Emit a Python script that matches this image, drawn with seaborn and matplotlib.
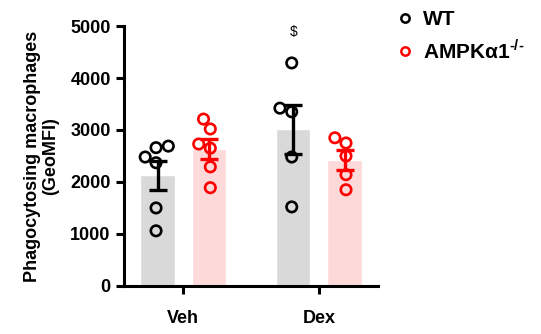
import matplotlib
matplotlib.use("Agg")
import matplotlib.pyplot as plt
from matplotlib.lines import Line2D
import seaborn as sns
import numpy as np
import pandas as pd

treatments = ["Veh", "Dex"]
genotypes = ["WT", "AMPKα1$^{\\text{-/-}}$"]

wt_veh = [2690, 2660, 2480, 2370, 1500, 1060]
ko_veh = [3210, 3020, 2730, 2650, 2290, 1890]
wt_dex = [4290, 3420, 3350, 2480, 1520]
ko_dex = [2850, 2750, 2500, 2140, 1850]

bar_colors = ["#d9d9d9", "#fdd9d9"]
point_colors = ["black", "#ff0000"]

rows = []
for trt, geno, vals in [("Veh", genotypes[0], wt_veh), ("Veh", genotypes[1], ko_veh),
                        ("Dex", genotypes[0], wt_dex), ("Dex", genotypes[1], ko_dex)]:
    for v in vals:
        rows.append({"treatment": trt, "genotype": geno, "value": v})
df = pd.DataFrame(rows)

sns.set_style("ticks")
plt.rcParams["font.family"] = ["Liberation Sans", "DejaVu Sans"]
plt.rcParams["font.weight"] = "bold"
plt.rcParams["text.color"] = "black"
plt.rcParams["axes.labelcolor"] = "black"
plt.rcParams["xtick.color"] = "black"
plt.rcParams["ytick.color"] = "black"
plt.rcParams["axes.edgecolor"] = "black"
plt.rcParams["mathtext.fontset"] = "custom"
plt.rcParams["mathtext.rm"] = "Liberation Sans:bold"
plt.rcParams["mathtext.bf"] = "Liberation Sans:bold"

fig = plt.figure(figsize=(5.41, 3.34), dpi=100)
ax = fig.add_axes([0.229, 0.144, 0.47, 0.778])

sns.barplot(data=df, x="treatment", y="value", hue="genotype", order=treatments,
            hue_order=genotypes, palette=bar_colors, width=0.756, gap=0.333,
            errorbar=None, legend=False, ax=ax, saturation=1)

sns.swarmplot(data=df, x="treatment", y="value", hue="genotype", order=treatments,
              hue_order=genotypes, palette=point_colors, dodge=True, size=8.5,
              legend=False, ax=ax)

ax.set_xlim(-0.437, 1.437)
ax.set_ylim(0, 5000)

# swarm positions are computed at draw time: lay them out, freeze them,
# then restyle as open circles
fig.canvas.draw()
for coll in ax.collections:
    if "draw" in coll.__dict__:
        del coll.draw
    fc = coll.get_facecolors()
    coll.set_edgecolors(fc)
    coll.set_facecolors("none")
    coll.set_linewidth(1.9)
    coll.set_sizes([7.5 ** 2])

# mean +/- SEM error bars, coloured per genotype
stats = df.groupby(["treatment", "genotype"])["value"].agg(["mean", "sem"])
patches = sorted(ax.patches, key=lambda p: p.get_x())
keys = [(t, g) for t in treatments for g in genotypes]
for p, (t, g) in zip(patches, keys):
    xc = p.get_x() + p.get_width() / 2
    col = point_colors[genotypes.index(g)]
    ax.errorbar(xc, stats.loc[(t, g), "mean"], yerr=stats.loc[(t, g), "sem"],
                color=col, capsize=6.5, capthick=2.4, elinewidth=2.4, zorder=5)

# significance mark over WT Dex
wt_dex_patch = patches[2]
ax.text(wt_dex_patch.get_x() + wt_dex_patch.get_width() / 2, 4880, r"\$",
        ha="center", va="center", fontsize=10, fontweight="normal")

ax.set_yticks([0, 1000, 2000, 3000, 4000, 5000])
ax.set_xlabel("")
ax.set_ylabel("Phagocytosing macrophages\n(GeoMFI)", fontsize=13, fontweight="bold",
              labelpad=8, linespacing=1.1)
ax.tick_params(axis="both", width=2.2, length=6, labelsize=13)
ax.tick_params(axis="x", pad=11)
for lab in ax.get_xticklabels() + ax.get_yticklabels():
    lab.set_fontweight("bold")
sns.despine(ax=ax)
for s in ["left", "bottom"]:
    ax.spines[s].set_linewidth(2.2)

handles = [Line2D([], [], linestyle="none", marker="o", markersize=6,
                  markerfacecolor="none", markeredgecolor=c, markeredgewidth=1.8)
           for c in point_colors]
fig.legend(handles, genotypes, loc="upper left", bbox_to_anchor=(0.695, 1.025),
           frameon=False, prop={"size": 15, "weight": "bold"},
           handletextpad=0.35, labelspacing=0.45, handlelength=1.0)

fig.savefig("out.png", dpi=100)
